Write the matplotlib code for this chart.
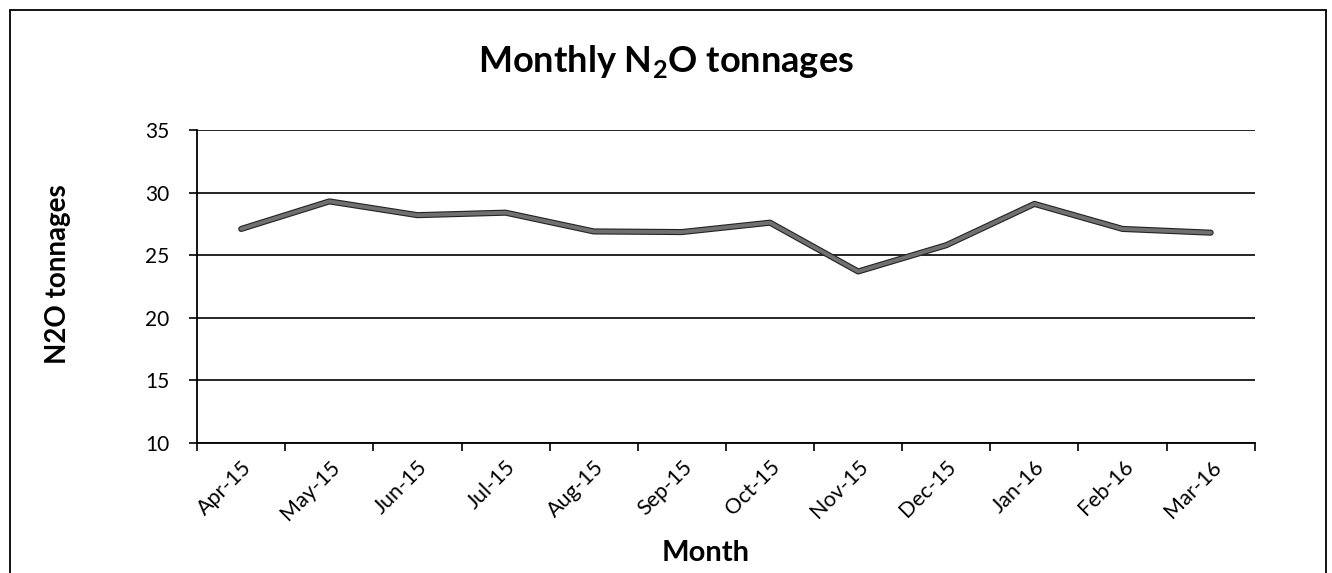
import matplotlib
matplotlib.use("Agg")
import matplotlib.pyplot as plt
import matplotlib.patheffects as pe
import numpy as np
from matplotlib.patches import Rectangle

plt.rcParams["font.family"] = ["Lato", "DejaVu Sans"]
plt.rcParams["mathtext.fontset"] = "custom"
plt.rcParams["mathtext.rm"] = "Lato"
plt.rcParams["mathtext.bf"] = "Lato:bold"

months = ["Apr-15", "May-15", "Jun-15", "Jul-15", "Aug-15", "Sep-15",
          "Oct-15", "Nov-15", "Dec-15", "Jan-16", "Feb-16", "Mar-16"]
tonnes = [27.1, 29.3, 28.2, 28.4, 26.9, 26.85, 27.6, 23.7, 25.8, 29.1, 27.1, 26.8]
y_ticks = [10, 15, 20, 25, 30, 35]

fig = plt.figure(figsize=(13.32, 5.73), dpi=100)
ax = fig.add_axes([0.148, 0.227, 0.794, 0.546])

x = np.arange(len(months))
ax.plot(x, tonnes, color="#707070", lw=2.8, solid_joinstyle="round",
        solid_capstyle="round",
        path_effects=[pe.Stroke(linewidth=4.4, foreground="#222222"), pe.Normal()])

ax.set_ylim(10, 35)
ax.set_yticks(y_ticks)
ax.set_xlim(-0.5, len(months) - 0.5)
ax.set_xticks(x)
ax.set_xticklabels(months, rotation=45, ha="right", va="top",
                   rotation_mode="anchor", fontsize=15.5)
ax.set_xticks(np.arange(len(months) + 1) - 0.5, minor=True)
ax.tick_params(axis="x", which="major", length=0, pad=10)
ax.tick_params(axis="x", which="minor", length=6, width=1.2, direction="out")
ax.tick_params(axis="y", length=6, width=1.2, labelsize=15, pad=14)

ax.grid(axis="y", color="black", lw=1.2)
ax.set_axisbelow(True)
for s in ("top", "right"):
    ax.spines[s].set_visible(False)
for s in ("left", "bottom"):
    ax.spines[s].set_linewidth(1.3)

fig.text(0.0435, 0.522, "N2O tonnages", rotation=90, ha="center", va="center",
         fontsize=20, fontweight="bold")
fig.text(0.53, 0.035, "Month", ha="center", va="center",
         fontsize=21, fontweight="bold")
fig.text(0.5, 0.892, r"Monthly N$_\mathbf{2}$O tonnages", ha="center", va="center",
         fontsize=26, fontweight="bold")

# outer chart border
fig.patches.append(Rectangle((10 / 1332, -0.05), 1316 / 1332, 1.05 - 10 / 573,
                             transform=fig.transFigure, fill=False,
                             edgecolor="black", lw=1.3))

fig.savefig("out.png", dpi=100)
